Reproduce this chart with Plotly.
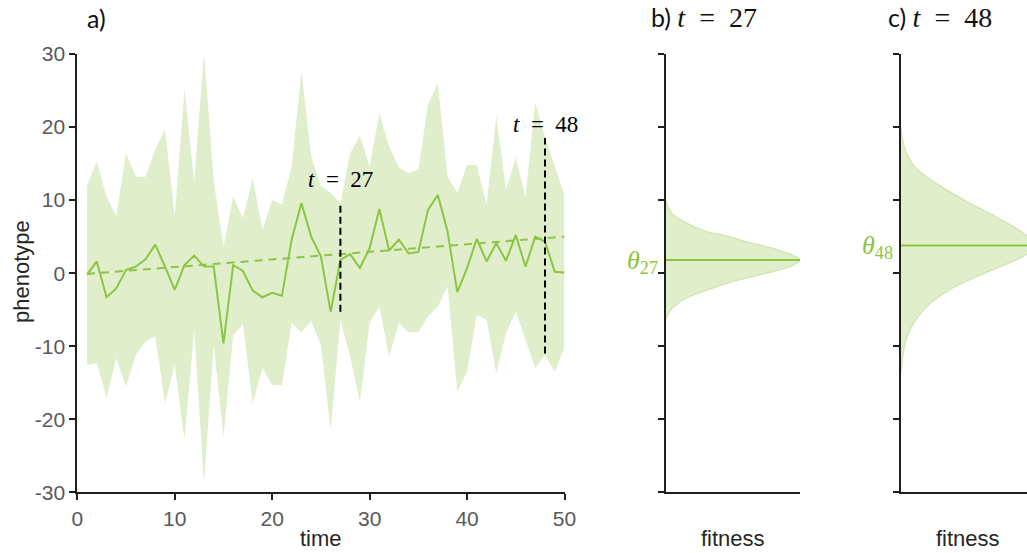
import plotly.graph_objects as go

# ---- data -------------------------------------------------------------
time = list(range(1, 51))

# mean phenotype trajectory
mean_pheno = [-0.2, 1.6, -3.3, -2.1, 0.45, 0.9, 1.9, 3.9, 0.9, -2.3,
              1.1, 2.4, 0.9, 0.9, -9.6, 1.1, 0.3, -2.4, -3.3, -2.7,
              -3.1, 4.6, 9.6, 5.0, 2.3, -5.3, 1.8, 2.6, 0.7, 3.4,
              8.8, 3.1, 4.6, 2.7, 2.9, 8.7, 10.7, 5.7, -2.6, 0.7,
              4.7, 1.6, 4.1, 1.7, 5.2, 0.9, 5.0, 4.3, 0.2, 0.1]

# envelope of the phenotype distribution
band_upper = [12.0, 15.3, 10.5, 7.8, 16.4, 13.2, 13.2, 16.9, 19.7, 7.8,
              25.2, 12.5, 30.1, 12.7, 3.6, 10.5, 7.5, 13.0, 5.9, 10.0,
              9.4, 14.6, 27.6, 16.0, 11.9, 11.0, 9.6, 16.4, 18.8, 14.6,
              21.9, 17.3, 14.5, 13.7, 14.2, 23.1, 26.0, 13.2, 11.0, 14.8,
              14.8, 9.4, 21.5, 11.4, 15.8, 10.5, 23.3, 18.7, 14.6, 10.7]
band_lower = [-12.6, -12.3, -17.0, -11.6, -15.5, -11.2, -9.4, -8.6, -17.8, -12.6,
              -22.8, -7.8, -28.8, -9.8, -22.4, -8.5, -7.0, -17.8, -13.0, -15.3,
              -15.3, -6.8, -8.1, -6.6, -9.8, -21.5, -6.4, -11.4, -17.6, -6.8,
              -4.6, -11.4, -6.8, -8.1, -8.1, -5.9, -4.6, -1.8, -16.2, -13.5,
              -5.7, -6.4, -13.7, -8.2, -5.3, -9.1, -13.0, -11.2, -13.5, -10.1]

# linear trend of the optimum
trend_time = [1, 50]
trend_value = [-0.1, 5.0]

# highlighted time points
marker_times = [27, 48]
marker_low = [-5.3, -11.0]
marker_high = [9.6, 18.5]

# fitness functions at the highlighted times
theta_values = [1.8, 3.8]
fit_b_pheno = [10.0, 8.2, 6.85, 5.7, 5.1, 4.3, 3.4, 2.5, 1.8, 0.9, 0.0,
               -0.9, -2.05, -3.2, -4.3, -5.5, -6.4]
fit_b_value = [0, 0.045, 0.156, 0.305, 0.45, 0.60, 0.80, 0.94, 1.0, 0.93, 0.75,
               0.55, 0.35, 0.18, 0.08, 0.02, 0]
fit_c_pheno = [20.0, 16.9, 14.6, 13.2, 11.4, 9.6, 8.2, 6.85, 5.5, 3.8, 2.3,
               0.9, -0.5, -2.3, -4.1, -5.9, -7.8, -9.6, -11.9, -13.7]
fit_c_value = [0, 0.03, 0.10, 0.19, 0.34, 0.51, 0.66, 0.79, 0.91, 1.0, 0.91,
               0.74, 0.56, 0.36, 0.22, 0.13, 0.067, 0.03, 0.01, 0]

y_ticks = [-30, -20, -10, 0, 10, 20, 30]
y_tick_text = ["-30", "-20", "-10", "0", "10", "20", "30"]
x_ticks = [0, 10, 20, 30, 40, 50]

# ---- styles -----------------------------------------------------------
GREEN = "#8DC540"
PALE = "rgb(224,238,204)"
EDGE = "rgb(208,229,176)"
AXIS = "#1f1f1f"
TICKFONT = dict(family="Liberation Sans, Arial, sans-serif", size=21, color="#595959")
TITLEFONT = dict(family="Liberation Sans, Arial, sans-serif", size=22, color="#262626")
SERIF = "Liberation Serif, DejaVu Serif, serif"
PANEL_FONT = "Lato, Open Sans, sans-serif"
EQ = "&#8194;=&#8194;"  # en spaces around the equals sign

W, H = 1027, 553

def px_x(p):
    return p / W

def px_y(p):
    return 1 - p / H

fig = go.Figure()

# panel a: envelope
fig.add_trace(go.Scatter(x=time, y=band_lower, mode="lines", line=dict(width=0),
                         hoverinfo="skip", showlegend=False, xaxis="x", yaxis="y"))
fig.add_trace(go.Scatter(x=time, y=band_upper, mode="lines", line=dict(width=0),
                         fill="tonexty", fillcolor=PALE, hoverinfo="skip",
                         showlegend=False, xaxis="x", yaxis="y"))
# trend of the optimum
fig.add_trace(go.Scatter(x=trend_time, y=trend_value, mode="lines",
                         line=dict(color=GREEN, width=2, dash="8px,6px"),
                         showlegend=False, xaxis="x", yaxis="y"))
# mean phenotype
fig.add_trace(go.Scatter(x=time, y=mean_pheno, mode="lines",
                         line=dict(color=GREEN, width=2),
                         showlegend=False, xaxis="x", yaxis="y"))
# highlighted time points
for t, lo, hi in zip(marker_times, marker_low, marker_high):
    fig.add_trace(go.Scatter(x=[t, t], y=[lo, hi], mode="lines",
                             line=dict(color="black", width=2, dash="7px,4px"),
                             showlegend=False, xaxis="x", yaxis="y"))

# panels b and c: fitness functions
for fv, fp, theta, xa, ya in [(fit_b_value, fit_b_pheno, theta_values[0], "x2", "y2"),
                              (fit_c_value, fit_c_pheno, theta_values[1], "x3", "y3")]:
    fig.add_trace(go.Scatter(x=fv, y=fp, mode="lines", fill="toself", fillcolor=PALE,
                             line=dict(color=EDGE, width=1.2, shape="spline", smoothing=0.8),
                             showlegend=False, xaxis=xa, yaxis=ya))
    fig.add_trace(go.Scatter(x=[0, max(fv)], y=[theta, theta], mode="lines",
                             line=dict(color=GREEN, width=2),
                             showlegend=False, xaxis=xa, yaxis=ya))

y_dom = [px_y(492.3), px_y(54)]

common_y = dict(range=[-30, 30], domain=y_dom, showline=True, linecolor=AXIS, linewidth=2,
                ticks="outside", ticklen=6, tickwidth=2, tickcolor=AXIS,
                tickvals=y_ticks, ticktext=y_tick_text, showgrid=False, zeroline=False,
                automargin=False)
common_x = dict(showline=True, linecolor=AXIS, linewidth=2, showgrid=False,
                zeroline=False, automargin=False)

fig.update_layout(
    template="none",
    width=W, height=H,
    margin=dict(l=0, r=0, t=0, b=0, pad=0),
    paper_bgcolor="white", plot_bgcolor="white",
    xaxis=dict(common_x, domain=[px_x(77.3), px_x(564.5)], range=[0, 50],
               ticks="outside", ticklen=6, tickwidth=2, tickcolor=AXIS,
               tickvals=x_ticks, tickfont=TICKFONT, anchor="y"),
    yaxis=dict(common_y, tickfont=TICKFONT, anchor="x"),
    xaxis2=dict(common_x, domain=[px_x(665.7), px_x(800)], range=[0, 1],
                showticklabels=False, ticks="", anchor="y2"),
    yaxis2=dict(common_y, showticklabels=False, anchor="x2"),
    xaxis3=dict(common_x, domain=[px_x(901), 1.0], range=[0, (W - 901) / 134.3],
                showticklabels=False, ticks="", anchor="y3"),
    yaxis3=dict(common_y, showticklabels=False, anchor="x3"),
)

ann = []
# panel titles
ann.append(dict(x=px_x(96), y=px_y(18), xref="paper", yref="paper", text="a)",
                showarrow=False, font=dict(family=PANEL_FONT, size=25, color="#111"),
                xanchor="center", yanchor="middle"))
for label, t, cx in [("b)", marker_times[0], 704), ("c)", marker_times[1], 940)]:
    ann.append(dict(x=px_x(cx), y=px_y(18), xref="paper", yref="paper",
                    text=(f"{label} <span style='font-family:{SERIF};font-size:28px'>"
                          f"<i>t</i>{EQ}{t}</span>"),
                    showarrow=False, font=dict(family=PANEL_FONT, size=25, color="#111"),
                    xanchor="center", yanchor="middle"))
# labels of the highlighted times
for t, hi, off in zip(marker_times, marker_high, [3.2, 1.8]):
    ann.append(dict(x=t, y=hi + off, xref="x", yref="y",
                    text=f"<i>t</i>{EQ}{t}", showarrow=False,
                    font=dict(family=SERIF, size=23, color="black"),
                    xanchor="center", yanchor="middle"))
# optimum labels
for theta, t, ya, rx in [(theta_values[0], marker_times[0], "y2", 660),
                         (theta_values[1], marker_times[1], "y3", 895)]:
    ann.append(dict(x=px_x(rx), y=theta, xref="paper", yref=ya,
                    text=f"<i>θ</i><sub>{t}</sub>", showarrow=False,
                    font=dict(family=SERIF, size=26, color=GREEN),
                    xanchor="right", yanchor="middle", yshift=-2))
# axis titles
ann.append(dict(x=px_x(321), y=px_y(538), xref="paper", yref="paper", text="time",
                showarrow=False, font=TITLEFONT, xanchor="center", yanchor="middle"))
ann.append(dict(x=px_x(22), y=px_y(272), xref="paper", yref="paper", text="phenotype",
                showarrow=False, font=TITLEFONT, textangle=-90,
                xanchor="center", yanchor="middle"))
for cx in [733, 968]:
    ann.append(dict(x=px_x(cx), y=px_y(538), xref="paper", yref="paper", text="fitness",
                    showarrow=False, font=TITLEFONT, xanchor="center", yanchor="middle"))

fig.update_layout(annotations=ann)

fig.write_html("out.html")
